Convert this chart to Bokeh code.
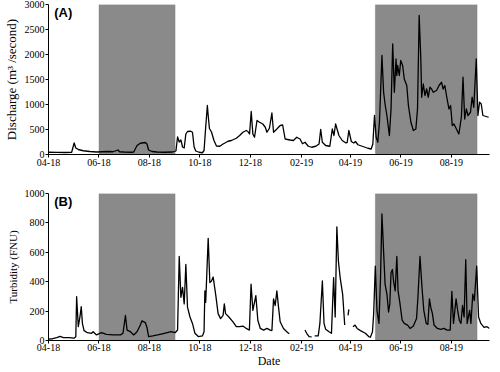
import numpy as np
import pandas as pd
from bokeh.plotting import figure
from bokeh.layouts import column
from bokeh.models import (FixedTicker, DatetimeTickFormatter, Label, BoxAnnotation,
                          Range1d, ColumnDataSource)
from bokeh.embed import file_html
from bokeh.resources import INLINE

# ---------------- data ----------------
START = "2018-04-01"          # day 0 of the day offsets below
END = "2019-09-16"

# Discharge (m3/second): day offset from START and value
discharge_days = [0, 10, 20, 28, 31, 33, 36, 42, 50, 58, 65, 72, 78, 84, 86, 91, 100, 103,
                  107, 111, 117, 119, 121, 125, 131, 140, 150, 154, 156, 158, 160, 162, 164,
                  166, 168, 172, 174, 176, 178, 182, 186, 188, 190, 192, 193, 194.5, 197, 200,
                  203, 207, 211, 217, 221, 227, 231, 235, 239, 241, 243, 245, 247, 249, 252,
                  255, 259, 262, 264, 267, 270, 272, 276, 280, 283, 286, 292, 296, 300, 304,
                  307, 310, 314, 318, 323, 327, 329, 331, 335, 340, 343, 345, 347, 351, 355,
                  359, 361, 363, 366, 369, 371, 374, 380, 386, 390, 392, 394, 396, 398, 400,
                  403, 405, 407, 409, 412, 414, 416, 418, 420, 421, 422, 424, 425.7, 428, 430,
                  433, 435, 438, 441, 444, 446, 448, 450, 451, 453, 455, 457, 459, 461, 463,
                  465, 469, 472, 475, 477, 479, 481, 484, 486, 488, 490, 493, 496, 499, 501,
                  503, 505, 507, 510, 512, 514, 517, 519, 521, 523, 525, 528, 532]
discharge_values = [45, 42, 40, 45, 230, 130, 100, 75, 60, 50, 55, 60, 55, 90, 55, 50, 45, 50,
                    180, 225, 240, 210, 90, 60, 50, 45, 50, 70, 350, 250, 290, 150, 130,
                    410, 460, 465, 445, 150, 70, 45, 35, 80, 550, 980, 780, 520, 450, 280,
                    170, 165, 210, 265, 280, 325, 380, 445, 480, 460, 410, 860, 410, 345, 680,
                    645, 610, 545, 445, 525, 830, 445, 510, 580, 590, 310, 290, 280, 345, 310,
                    215, 245, 165, 145, 165, 210, 500, 245, 180, 165, 510, 380, 610, 380, 280,
                    235, 240, 480, 260, 230, 260, 195, 160, 125, 110, 210, 780, 345, 245, 645,
                    1980, 1245, 980, 780, 380, 910, 2210, 1245, 1910, 1580, 1780, 1580, 1880, 1780, 1510,
                    1380, 980, 645, 480, 510, 910, 2780, 1910, 1145, 1410, 1180, 1310, 1145, 1345, 1310,
                    1245, 1280, 1380, 1445, 1310, 1380, 1180, 910, 980, 580, 610, 510, 410, 745, 1545,
                    710, 910, 780, 845, 1145, 945, 1910, 780, 1045, 1010, 780, 765, 745]

# Turbidity (FNU): day offset from START and value (nan = no data)
nan = float("nan")
turbidity_days = [0, 5, 10, 14, 18, 25, 31, 33, 34, 36, 38, 39.6, 41, 43, 47, 52, 54, 58, 64,
                  70, 78, 87, 90, 93, 95, 99, 103, 107, 111, 113, 117, 119, 121, 126, 132, 140,
                  148, 153, 156, 158, 160, 162, 164, 166, 168, 171, 174, 177, 181, 186, 188,
                  189, 190, 193, 195, 197, 199, 202, 205, 208, 211, 212.5, 214, 218, 223, 227,
                  231, 235, 239, 242.8, 244.8, 247, 250.6, 253, 256, 260, 264, 268, 270, 272,
                  274, 276, 278, 280, 284, 288, 291, 300, 310, 312, 315, 318, 320, 321.7, 326,
                  328, 331, 333, 335, 339, 342, 344.6, 346.5, 348.5, 350.4, 352.5, 355.5, 358,
                  360, 362, 363, 365, 368, 370.5, 373, 377, 383, 387, 389, 391.6, 393, 395, 397,
                  399.4, 401.3, 403, 405, 406.8, 409, 411, 412.5, 414, 415.7, 417, 419, 421,
                  422.5, 424.6, 427.4, 430, 434, 437, 441, 444.8, 446.5, 449, 451.4, 453.6,
                  456.5, 458.5, 460.4, 462, 464, 466, 470, 474, 478, 481.7, 485.5, 487.5, 489.5,
                  492.6, 494.5, 496.5, 498.5, 500.4, 502.3, 504.3, 506, 509, 510.5, 512.8, 514.7,
                  517.5, 519.8, 522.5, 526.4, 530, 533]
turbidity_values = [10, 12, 20, 28, 20, 20, 16, 25, 298, 95, 160, 230, 115, 67, 53, 49, 60, 38, 53,
                    42, 38, 38, 49, 170, 70, 60, 38, 60, 105, 134, 122, 89, 27, 31, 38, 49,
                    60, 53, 71, 572, 294, 361, 249, 517, 227, 160, 116, 49, 27, 31, 60,
                    338, 260, 695, 394, 405, 432, 316, 183, 149, 171, 249, 183, 160, 127, 94,
                    94, 98, 82, 71, 383, 205, 305, 138, 82, 71, 82, 71, 67, 283,
                    238, 338, 227, 127, 82, 60, 45, nan, 71, 49, 27, 25, nan, 31, 31,
                    116, 405, 116, 76, 60, 49, 428, 160, 773, 539, 428, 316, 105,
                    nan, 171, 212, nan, 94, 105, 82, 67, 49, 27, 22, 60, 183, 505, 205,
                    116, 428, 862, 606, 383, 316, 194, 249, 461, 483, 405, 338, 572,
                    338, 260, 138, 116, 105, 82, 98, 149, 294, 572, 361, 205,
                    116, 110, 283, 227, 183, 105, 82, 76, 82, 71, 71, 334, 116,
                    283, 205, 138, 116, 238, 160, 550, 116, 205, 116, 316, 272,
                    505, 160, 116, 89, 94, 82]

tick_dates = ["2018-04-01", "2018-06-01", "2018-08-01", "2018-10-01", "2018-12-01",
              "2019-02-01", "2019-04-01", "2019-06-01", "2019-08-01"]
tick_labels = ["04-18", "06-18", "08-18", "10-18", "12-18", "02-19", "04-19", "06-19", "08-19"]
shade_periods = [("2018-06-01", "2018-09-01"), ("2019-05-01", "2019-09-01")]

discharge_ticks = [0, 500, 1000, 1500, 2000, 2500, 3000]
turbidity_ticks = [0, 200, 400, 600, 800, 1000]

# ---------------- helpers ----------------
def ms(d):
    return pd.Timestamp(d).value / 1e6

def to_dates(days):
    return (pd.Timestamp(START) + pd.to_timedelta(np.asarray(days, dtype=float), unit="D")).values

SERIF = "Liberation Serif"


def make_panel(days, vals, y_max, y_ticks, ylabel, ylabel_size, letter, letter_y,
               height, border_top, border_bottom, border_left, xlabel=None):
    p = figure(width=490, height=height, x_axis_type="datetime",
               output_backend="svg", toolbar_location=None,
               x_range=Range1d(ms(START), ms(END)), y_range=Range1d(0, y_max),
               min_border_left=border_left, min_border_right=1,
               min_border_top=border_top, min_border_bottom=border_bottom)
    p.outline_line_color = None
    p.xgrid.visible = False
    p.ygrid.visible = False
    p.background_fill_color = "white"
    p.border_fill_color = "white"

    for a, b in shade_periods:
        p.add_layout(BoxAnnotation(left=ms(a), right=ms(b), fill_color="#8a8a8a",
                                   fill_alpha=1.0, line_color="#6f6f6f", line_width=1,
                                   level="underlay"))

    src = ColumnDataSource(dict(x=to_dates(days), y=np.asarray(vals, dtype=float)))
    p.line("x", "y", source=src, line_color="black", line_width=1.3, line_join="round")

    p.xaxis.ticker = FixedTicker(ticks=[ms(d) for d in tick_dates])
    p.xaxis.formatter = DatetimeTickFormatter(months="%m-%y", days="%m-%y", years="%m-%y",
                                              hours="%m-%y", minutes="%m-%y")
    p.yaxis.ticker = FixedTicker(ticks=y_ticks)

    for ax in (p.xaxis[0], p.yaxis[0]):
        ax.axis_line_color = "black"
        ax.axis_line_width = 1
        ax.major_tick_line_color = "black"
        ax.major_tick_in = 0
        ax.major_tick_out = 3
        ax.minor_tick_line_color = None
        ax.major_label_text_font = SERIF
        ax.major_label_text_font_size = "10px"
        ax.major_label_text_color = "black"
        ax.major_label_standoff = 1
        ax.axis_label_text_font = SERIF
        ax.axis_label_text_font_style = "normal"
        ax.axis_label_text_color = "black"
        ax.axis_label_standoff = 3

    p.yaxis.axis_label = ylabel
    p.yaxis.axis_label_text_font_size = ylabel_size
    if xlabel:
        p.xaxis.axis_label = xlabel
        p.xaxis.axis_label_text_font_size = "12px"
        p.xaxis.axis_label_standoff = 0
        p.xaxis.major_label_standoff = 0

    p.add_layout(Label(x=ms("2018-04-08"), y=letter_y, text=letter,
                       text_font="Liberation Sans", text_font_style="bold",
                       text_font_size="13px", text_baseline="middle", text_color="black"))
    return p


p1 = make_panel(discharge_days, discharge_values, 3000, discharge_ticks,
                "Discharge (m\u00b3 /second)", "13px", "(A)", 2850,
                height=175, border_top=4, border_bottom=21, border_left=38)
p2 = make_panel(turbidity_days, turbidity_values, 1000, turbidity_ticks,
                "Turbidity (FNU)", "11px", "(B)", 947,
                height=195, border_top=18, border_bottom=27, border_left=34, xlabel="Date")

layout = column(p1, p2, spacing=0)

open("out.html", "w").write(file_html(layout, INLINE))
